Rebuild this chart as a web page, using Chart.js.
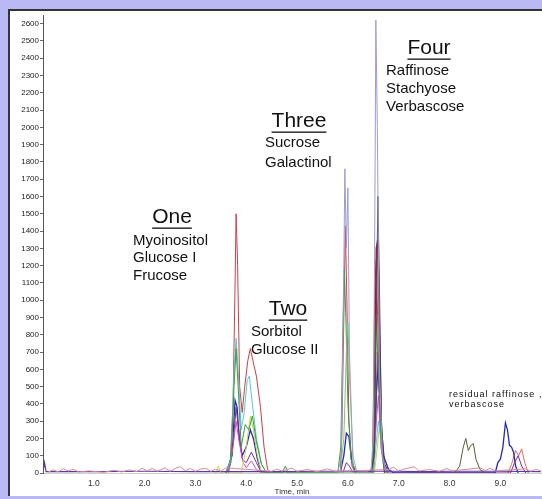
<!DOCTYPE html>
<html><head><meta charset="utf-8">
<script src="https://cdn.jsdelivr.net/npm/chart.js@4.4.1/dist/chart.umd.min.js"></script>
<style>
html,body{margin:0;padding:0;width:542px;height:499px;overflow:hidden;background:#b9b9f6;}
#panel{position:absolute;left:8px;top:9px;width:534px;height:487px;background:#fff;border-top:2px solid #333;border-left:2px solid #333;box-sizing:border-box;}
#c{position:absolute;left:0;top:0;}
</style></head><body>
<div id="panel"></div>
<canvas id="c" width="542" height="499"></canvas>
<script>
// ---- data: [time (min), intensity] ----
const baselinePurple = [[0,8],[0.03,60],[0.06,8],[1.0,8],[2.0,10],[3.0,8],[4.5,8],[5.5,10],[6.9,10],[7.5,8],[8.0,10],[9.0,10],[9.8,8]];
const noisePink = [[0.1,5],[0.2,18],[0.3,6],[0.4,25],[0.5,12],[0.6,22],[0.7,6],[0.9,12],[1.2,4],[1.4,16],[1.55,6],[1.7,18],[1.85,8],[1.95,28],[2.05,12],[2.15,26],[2.25,10],[2.4,30],[2.5,10],[2.6,26],[2.7,36],[2.8,14],[2.9,26],[3.0,10],[3.1,22],[3.2,28],[3.3,10],[3.4,22],[3.5,10],[3.6,30],
  [4.5,10],[4.6,22],[4.7,12],[4.9,28],[5.0,10],[5.2,20],[5.4,8],[5.6,24],[5.75,10],
  [6.8,20],[6.9,34],[7.0,12],[7.1,22],[7.3,36],[7.4,12],[7.6,20],[7.8,10],[7.95,26],[8.05,12],[8.6,30],[8.7,14],[8.8,28],[8.9,12],[9.5,24],[9.6,10],[9.7,22],[9.8,10]];
const red = [[3.6,0],[3.68,40],[3.74,400],[3.78,1100],[3.8,1500],[3.83,1200],[3.87,500],[3.92,350],[3.97,500],[4.03,650],[4.08,720],[4.13,650],[4.2,560],[4.28,380],[4.35,150],[4.42,20],[4.5,0],
  [5.85,0],[5.88,200],[5.92,900],[5.95,1430],[5.98,1000],[6.02,300],[6.08,40],[6.15,0],
  [6.48,0],[6.5,400],[6.53,1100],[6.56,1230],[6.6,700],[6.64,250],[6.7,60],[6.8,0]];
const crimson = [[6.4,0],[6.5,30],[6.53,600],[6.56,1300],[6.59,1350],[6.62,800],[6.66,250],[6.72,50],[6.8,0]];
const lavender = [[5.8,0],[5.87,100],[5.92,1200],[5.94,1760],[5.97,1300],[6.0,1650],[6.03,700],[6.1,50],[6.2,0],
  [6.45,0],[6.5,200],[6.53,1500],[6.55,2620],[6.58,2000],[6.62,600],[6.68,100],[6.75,0]];
const darkGray = [[6.45,0],[6.52,100],[6.56,900],[6.59,1600],[6.62,1100],[6.66,300],[6.72,0]];
const olive = [[8.1,0],[8.2,40],[8.27,150],[8.32,200],[8.37,130],[8.42,160],[8.47,170],[8.52,80],[8.6,20],[8.7,0]];
const green = [[3.6,0],[3.7,60],[3.76,500],[3.8,720],[3.84,500],[3.9,150],[3.98,280],[4.05,250],[4.12,330],[4.2,180],[4.3,50],[4.4,0],
  [4.7,0],[4.77,40],[4.82,0],
  [5.8,0],[5.86,150],[5.9,800],[5.93,1180],[5.96,900],[6.0,400],[6.06,80],[6.15,0],
  [6.48,0],[6.52,300],[6.56,900],[6.6,600],[6.65,200],[6.72,0]];
const lightGreen = [[5.85,0],[5.92,200],[5.97,700],[6.0,870],[6.04,500],[6.1,100],[6.18,0]];
const cyan = [[3.6,0],[3.7,80],[3.76,600],[3.8,780],[3.84,600],[3.9,250],[3.96,350],[4.02,540],[4.06,560],[4.12,400],[4.2,200],[4.3,50],[4.4,0],
  [6.5,0],[6.55,150],[6.6,300],[6.65,200],[6.7,50],[6.8,0]];
const blue = [[3.6,0],[3.72,100],[3.78,420],[3.82,380],[3.86,200],[3.92,100],[4.0,150],[4.08,250],[4.14,200],[4.22,80],[4.3,0],
  [5.85,0],[5.92,100],[5.97,230],[6.02,210],[6.07,80],[6.15,0],
  [6.5,0],[6.55,400],[6.6,650],[6.64,300],[6.7,100],[6.8,20],[6.9,0],
  [8.9,0],[8.95,60],[9.0,80],[9.05,150],[9.1,290],[9.14,250],[9.18,160],[9.22,150],[9.26,120],[9.3,40],[9.35,0]];
const purple = [[3.65,0],[3.75,200],[3.8,380],[3.85,250],[3.92,80],[4.0,60],[4.1,120],[4.2,60],[4.3,0],
  [5.9,0],[5.97,60],[6.03,40],[6.1,0],
  [6.5,0],[6.55,300],[6.58,700],[6.62,450],[6.68,120],[6.75,0],
  [9.2,0],[9.28,60],[9.35,100],[9.42,40],[9.5,0]];
const magenta = [[3.65,0],[3.74,150],[3.8,300],[3.86,180],[3.94,60],[4.0,30],[4.1,70],[4.2,20],[4.3,0],
  [6.5,0],[6.56,300],[6.6,450],[6.65,150],[6.72,0]];
const yellowGreen = [[3.4,0],[3.45,40],[3.5,0],[3.9,0],[4.0,150],[4.08,330],[4.14,250],[4.22,100],[4.3,0],
  [6.52,0],[6.58,150],[6.62,270],[6.67,150],[6.74,0]];
const salmon = [[9.15,0],[9.22,50],[9.3,130],[9.36,100],[9.42,140],[9.48,60],[9.55,0]];

const xTickValues = [1,2,3,4,5,6,7,8,9];

const traces = [
  [noisePink,'#d88a9a',1],[baselinePurple,'#5a3aa0',1.2],
  [lavender,'#9c9cd4',1],[darkGray,'#4a4a4a',1],[olive,'#5c5c38',1],
  [lightGreen,'#7cc87c',1],[green,'#3c9c3c',1],[cyan,'#58c8d8',1],[yellowGreen,'#c8d848',1],
  [magenta,'#d848c8',1],[purple,'#7a2a9a',1],[blue,'#2828b8',1.3],
  [crimson,'#a01838',1.6],[red,'#d03c4c',1],[salmon,'#e06a6a',1]
];

const annotations = [
  {t:'One', x:172, y:217, size:21, align:'center', u:true},
  {t:'Myoinositol', x:133, y:241, size:15},
  {t:'Glucose I', x:133, y:258, size:15},
  {t:'Frucose', x:133, y:276, size:15},
  {t:'Two', x:288, y:309, size:21, align:'center', u:true},
  {t:'Sorbitol', x:251, y:332, size:15},
  {t:'Glucose II', x:251, y:350, size:15},
  {t:'Three', x:299, y:121, size:21, align:'center', u:true},
  {t:'Sucrose', x:265, y:143, size:15},
  {t:'Galactinol', x:265, y:163, size:15},
  {t:'Four', x:429, y:48, size:21, align:'center', u:true},
  {t:'Raffinose', x:386, y:71, size:15},
  {t:'Stachyose', x:386, y:89, size:15},
  {t:'Verbascose', x:386, y:107, size:15},
  {t:'residual raffinose ,', x:449, y:395, size:9, ls:'1px'},
  {t:'verbascose', x:449, y:405, size:9, ls:'1px'}
];

const textPlugin = {
  id:'texts',
  afterDraw(chart){
    const ctx = chart.ctx;
    ctx.save();
    annotations.forEach(a=>{
      ctx.font = a.size + 'px "Liberation Sans", Arial, sans-serif';
      ctx.fillStyle = '#111';
      ctx.textBaseline = 'middle';
      ctx.textAlign = a.align || 'left';
      ctx.letterSpacing = a.ls || '0px';
      ctx.fillText(a.t, a.x, a.y);
      if (a.u) {
        const w = ctx.measureText(a.t).width;
        const x0 = a.align==='center' ? a.x - w/2 : a.x;
        ctx.fillRect(x0, a.y + a.size*0.5, w, 1.3);
      }
    });
    ctx.restore();
  }
};

new Chart(document.getElementById('c'), {
  type:'line',
  data:{
    datasets: traces.map(([pts,col,w])=>({
      data: pts.map(p=>({x:p[0], y:p[1]})),
      borderColor: col, borderWidth: w, pointRadius: 0, tension: 0, fill:false
    }))
  },
  options:{
    responsive:false, animation:false,
    layout:{padding:{top:15,right:1,left:0,bottom:0}},
    plugins:{legend:{display:false}, tooltip:{enabled:false}},
    scales:{
      x:{type:'linear', min:0, max:9.8,
        afterBuildTicks: s => { s.ticks = xTickValues.map(v=>({value:v})); },
        ticks:{callback: v => Number(v).toFixed(1), font:{size:8.5, family:'"Liberation Sans", Arial'}, color:'#333', padding:6, maxRotation:0, autoSkip:false},
        grid:{drawOnChartArea:false, drawTicks:false},
        border:{color:'#cfcfcf', width:1},
        title:{display:true, text:'Time, min', font:{size:8, family:'"Liberation Sans", Arial'}, color:'#333', padding:{top:0,bottom:2}},
        afterFit: s => { s.height = 26; }
      },
      y:{min:0, max:2650,
        ticks:{stepSize:100, includeBounds:false, callback: v => String(v), font:{size:8, family:'"Liberation Sans", Arial'}, color:'#222', padding:1, autoSkip:false},
        grid:{drawOnChartArea:false, tickLength:3, color:'#666'},
        border:{color:'#555', width:1},
        afterFit: s => { s.width = 43; }
      }
    }
  },
  plugins:[textPlugin]
});
</script>
</body></html>
